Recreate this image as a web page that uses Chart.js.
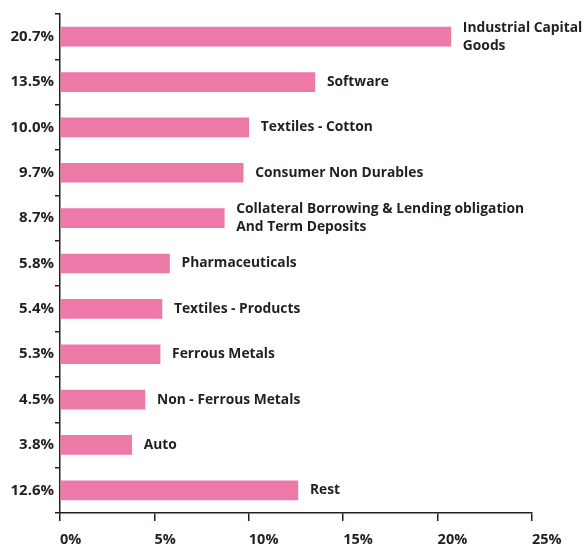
<!DOCTYPE html>
<html>
<head>
<meta charset="utf-8">
<script src="https://cdn.jsdelivr.net/npm/chart.js@4.4.1/dist/chart.umd.min.js"></script>
<style>
  body { margin: 0; background: #fff; }
  #wrap { width: 588px; height: 544px; }
</style>
</head>
<body>
<div id="wrap"><canvas id="sector-chart"></canvas></div>
<script>
/*-----------------------------
Data
------------------------------*/
const sectors = [
    ['Industrial Capital', 'Goods'],
    'Software',
    'Textiles - Cotton',
    'Consumer Non Durables',
    ['Collateral Borrowing & Lending obligation', 'And Term Deposits'],
    'Pharmaceuticals',
    'Textiles - Products',
    'Ferrous Metals',
    'Non - Ferrous Metals',
    'Auto',
    'Rest'
];
const shares = [20.7, 13.5, 10.0, 9.7, 8.7, 5.8, 5.4, 5.3, 4.5, 3.8, 12.6];
const shareLabels = shares.map(v => v.toFixed(1) + '%');
const xTicks = [0, 5, 10, 15, 20, 25];

const ink = '#231f20';
const pink = '#ec79a8';
const fontFamily = '"Open Sans", "Noto Sans", sans-serif';

//------------------------
// sector names to the right of each bar
//------------------------
const sectorNames = {
    id: 'sectorNames',
    afterDatasetsDraw(chart) {
        const ctx = chart.ctx;
        const meta = chart.getDatasetMeta(0);
        ctx.save();
        ctx.fillStyle = ink;
        ctx.font = 'bold 13.8px ' + fontFamily;
        ctx.textAlign = 'left';
        ctx.textBaseline = 'middle';
        meta.data.forEach((bar, i) => {
            const lines = [].concat(sectors[i]);
            const lh = 18;
            const y0 = bar.y - (lines.length - 1) * lh / 2;
            lines.forEach((t, j) => ctx.fillText(t, bar.x + 12, y0 + j * lh));
        });
        ctx.restore();
    }
};

new Chart(document.getElementById('sector-chart'), {
    type: 'bar',
    data: {
        labels: shareLabels,
        datasets: [{
            data: shares,
            backgroundColor: pink,
            borderWidth: 0,
            barThickness: 19
        }]
    },
    options: {
        indexAxis: 'y',
        responsive: true,
        maintainAspectRatio: false,
        animation: false,
        layout: {
            padding: { top: 14, right: 56, left: 0, bottom: 0 }
        },
        plugins: {
            legend: { display: false },
            tooltip: { enabled: false }
        },
        scales: {
            x: {
                min: 0,
                max: 25,
                afterBuildTicks: (scale) => {
                    scale.ticks = xTicks.map(v => ({ value: v }));
                },
                afterFit: (scale) => { scale.height = 31; },
                border: { color: ink, width: 1.5 },
                grid: {
                    drawOnChartArea: false,
                    drawTicks: true,
                    tickLength: 8,
                    color: ink,
                    lineWidth: 1.5
                },
                ticks: {
                    align: 'start',
                    padding: 10,
                    color: ink,
                    font: { family: fontFamily, size: 14.5, weight: 'bold' },
                    callback: (v) => v + '%'
                }
            },
            y: {
                afterFit: (scale) => { scale.width = 60; },
                border: { color: ink, width: 1.5 },
                grid: {
                    offset: true,
                    drawOnChartArea: false,
                    drawTicks: true,
                    tickLength: 5,
                    color: ink,
                    lineWidth: 1.5
                },
                ticks: {
                    padding: 1,
                    color: ink,
                    font: { family: fontFamily, size: 15, weight: 'bold' }
                }
            }
        }
    },
    plugins: [sectorNames]
});
</script>
</body>
</html>
